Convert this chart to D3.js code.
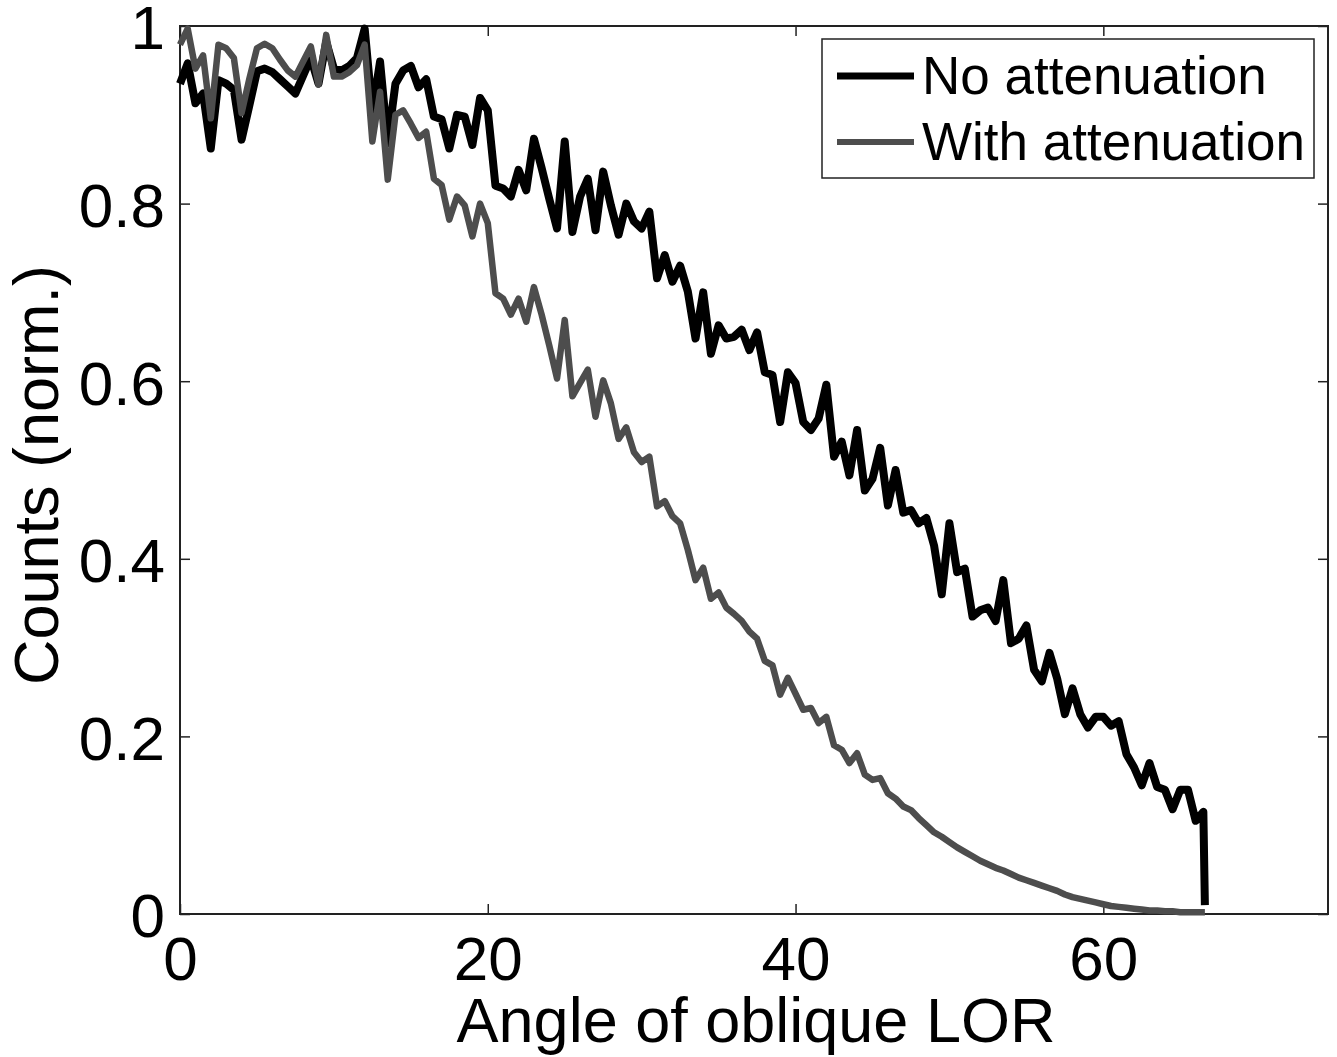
<!DOCTYPE html>
<html>
<head>
<meta charset="utf-8">
<script src="https://cdn.jsdelivr.net/npm/d3@7"></script>
<style>
  body { margin: 0; background: #fff; }
  text { font-family: "Liberation Sans", Arial, Helvetica, sans-serif; fill: #000; }
</style>
</head>
<body>
<div id="chart"></div>
<script>
// angle of the oblique LOR (degrees)
const angles = [
  0, 0.5, 1, 1.5, 2, 2.5, 3, 3.5, 4, 4.5, 5, 5.5, 6, 6.5, 7, 7.5, 8, 8.5, 9, 9.5,
  10, 10.5, 11, 11.5, 12, 12.5, 13, 13.5, 14, 14.5, 15, 15.5, 16, 16.5, 17, 17.5, 18, 18.5, 19, 19.5,
  20, 20.5, 21, 21.5, 22, 22.5, 23, 23.5, 24, 24.5, 25, 25.5, 26, 26.5, 27, 27.5, 28, 28.5, 29, 29.5,
  30, 30.5, 31, 31.5, 32, 32.5, 33, 33.5, 34, 34.5, 35, 35.5, 36, 36.5, 37, 37.5, 38, 38.5, 39, 39.5,
  40, 40.5, 41, 41.5, 42, 42.5, 43, 43.5, 44, 44.5, 45, 45.5, 46, 46.5, 47, 47.5, 48, 48.5, 49, 49.5,
  50, 50.5, 51, 51.5, 52, 52.5, 53, 53.5, 54, 54.5, 55, 55.5, 56, 56.5, 57, 57.5, 58, 58.5, 59, 59.5,
  60, 60.5, 61, 61.5, 62, 62.5, 63, 63.5, 64, 64.5, 65, 65.5, 66, 66.5, 66.6
];

// normalised counts
const noAttenuation = [
  .935, .958, .913, .924, .862, .939, .935, .928, .872, .910,
  .949, .952, .948, .940, .932, .924, .944, .964, .935, .982,
  .952, .950, .955, .964, .997, .904, .960, .868, .935, .950,
  .955, .931, .940, .898, .895, .862, .900, .898, .866, .919,
  .905, .820, .817, .808, .838, .815, .873, .840, .805, .772,
  .870, .768, .808, .828, .770, .836, .798, .765, .800, .780,
  .772, .791, .716, .742, .712, .730, .701, .648, .700, .631,
  .663, .648, .650, .658, .635, .655, .610, .607, .554, .610,
  .598, .554, .545, .558, .596, .515, .532, .494, .545, .477,
  .490, .525, .460, .500, .452, .455, .440, .446, .415, .360,
  .440, .385, .389, .335, .342, .345, .330, .376, .305, .310,
  .325, .275, .262, .294, .265, .225, .254, .225, .210, .222,
  .222, .212, .217, .180, .165, .145, .170, .143, .140, .118,
  .140, .140, .105, .115, .010
];

const withAttenuation = [
  .979, .997, .952, .967, .896, .979, .975, .964, .902, .940,
  .975, .980, .975, .962, .950, .943, .960, .977, .934, .990,
  .943, .943, .948, .956, .979, .870, .926, .827, .900, .905,
  .890, .874, .881, .828, .821, .782, .808, .798, .763, .800,
  .778, .699, .693, .675, .693, .667, .706, .675, .640, .603,
  .669, .583, .598, .613, .560, .601, .575, .535, .548, .520,
  .509, .515, .459, .465, .448, .440, .410, .376, .390, .355,
  .362, .345, .338, .330, .318, .310, .285, .280, .247, .266,
  .248, .230, .232, .215, .222, .190, .185, .170, .181, .157,
  .151, .153, .136, .130, .121, .117, .108, .100, .092, .087,
  .081, .075, .070, .065, .060, .056, .052, .049, .045, .041,
  .038, .035, .032, .029, .026, .022, .019, .017, .015, .013,
  .011, .009, .008, .007, .006, .005, .004, .004, .003, .003,
  .002, .002, .002, .002, .002
];

const seriesNames = ['No attenuation', 'With attenuation'];
const xTicks = [0, 20, 40, 60];
const yTicks = [0, 0.2, 0.4, 0.6, 0.8, 1];
const xLabel = 'Angle of oblique LOR';
const yLabel = 'Counts (norm.)';

const width = 1337, height = 1057;
const margin = { top: 26, right: 9, bottom: 143, left: 180 };
const innerW = width - margin.left - margin.right;
const innerH = height - margin.top - margin.bottom;

const svg = d3.select('#chart').append('svg')
  .attr('width', width)
  .attr('height', height);

const g = svg.append('g').attr('transform', `translate(${margin.left},${margin.top})`);

const x = d3.scaleLinear().domain([0, 74.6]).range([0, innerW]);
const y = d3.scaleLinear().domain([0, 1]).range([innerH, 0]);

const series = [
  { name: seriesNames[0], values: noAttenuation, color: '#000000', width: 8 },
  { name: seriesNames[1], values: withAttenuation, color: '#4d4d4d', width: 6.5 }
];

// axes: ticks point inward on all four sides, like a boxed matlab plot
const fontSize = 62;
const styleAxis = sel => {
  sel.select('.domain').remove();
  sel.selectAll('.tick line').attr('stroke', '#222').attr('stroke-width', 1.5);
  sel.selectAll('.tick text').attr('font-size', fontSize).attr('fill', '#000');
};

g.append('g')
  .attr('transform', `translate(0,${innerH})`)
  .call(d3.axisBottom(x).tickValues(xTicks).tickSize(-10).tickPadding(22).tickFormat(d3.format('d')))
  .call(styleAxis);

g.append('g')
  .call(d3.axisTop(x).tickValues(xTicks).tickSize(-10).tickFormat(''))
  .call(styleAxis);

g.append('g')
  .call(d3.axisLeft(y).tickValues(yTicks).tickSize(-10).tickPadding(15).tickFormat(d => d3.format('~g')(d)))
  .call(styleAxis)
  .selectAll('.tick text').attr('dy', '0.37em');

g.append('g')
  .attr('transform', `translate(${innerW},0)`)
  .call(d3.axisRight(y).tickValues(yTicks).tickSize(-10).tickFormat(''))
  .call(styleAxis);

// plot box
g.append('rect')
  .attr('width', innerW)
  .attr('height', innerH)
  .attr('fill', 'none')
  .attr('stroke', '#222')
  .attr('stroke-width', 2);

const line = d3.line()
  .x((d, i) => x(angles[i]))
  .y(d => y(d));

g.selectAll('path.series')
  .data(series)
  .join('path')
  .attr('class', 'series')
  .attr('d', d => line(d.values))
  .attr('fill', 'none')
  .attr('stroke', d => d.color)
  .attr('stroke-width', d => d.width)
  .attr('stroke-linejoin', 'round');

// axis titles
svg.append('text')
  .attr('x', 756)
  .attr('y', 1042)
  .attr('text-anchor', 'middle')
  .attr('font-size', 63)
  .text(xLabel);

svg.append('text')
  .attr('transform', 'translate(58,475) rotate(-90)')
  .attr('text-anchor', 'middle')
  .attr('font-size', 63)
  .text(yLabel);

// legend
const legend = svg.append('g').attr('transform', 'translate(822,39)');
legend.append('rect')
  .attr('width', 492)
  .attr('height', 139)
  .attr('fill', '#fff')
  .attr('stroke', '#222')
  .attr('stroke-width', 1.5);

const rows = legend.selectAll('g.row')
  .data(series)
  .join('g')
  .attr('class', 'row')
  .attr('transform', (d, i) => `translate(0,${37 + i * 66})`);

rows.append('line')
  .attr('x1', 15).attr('x2', 92)
  .attr('stroke', d => d.color)
  .attr('stroke-width', (d, i) => i === 0 ? 7 : 6);

rows.append('text')
  .attr('x', 100)
  .attr('y', 18)
  .attr('font-size', 53)
  .text(d => d.name);
</script>
</body>
</html>
